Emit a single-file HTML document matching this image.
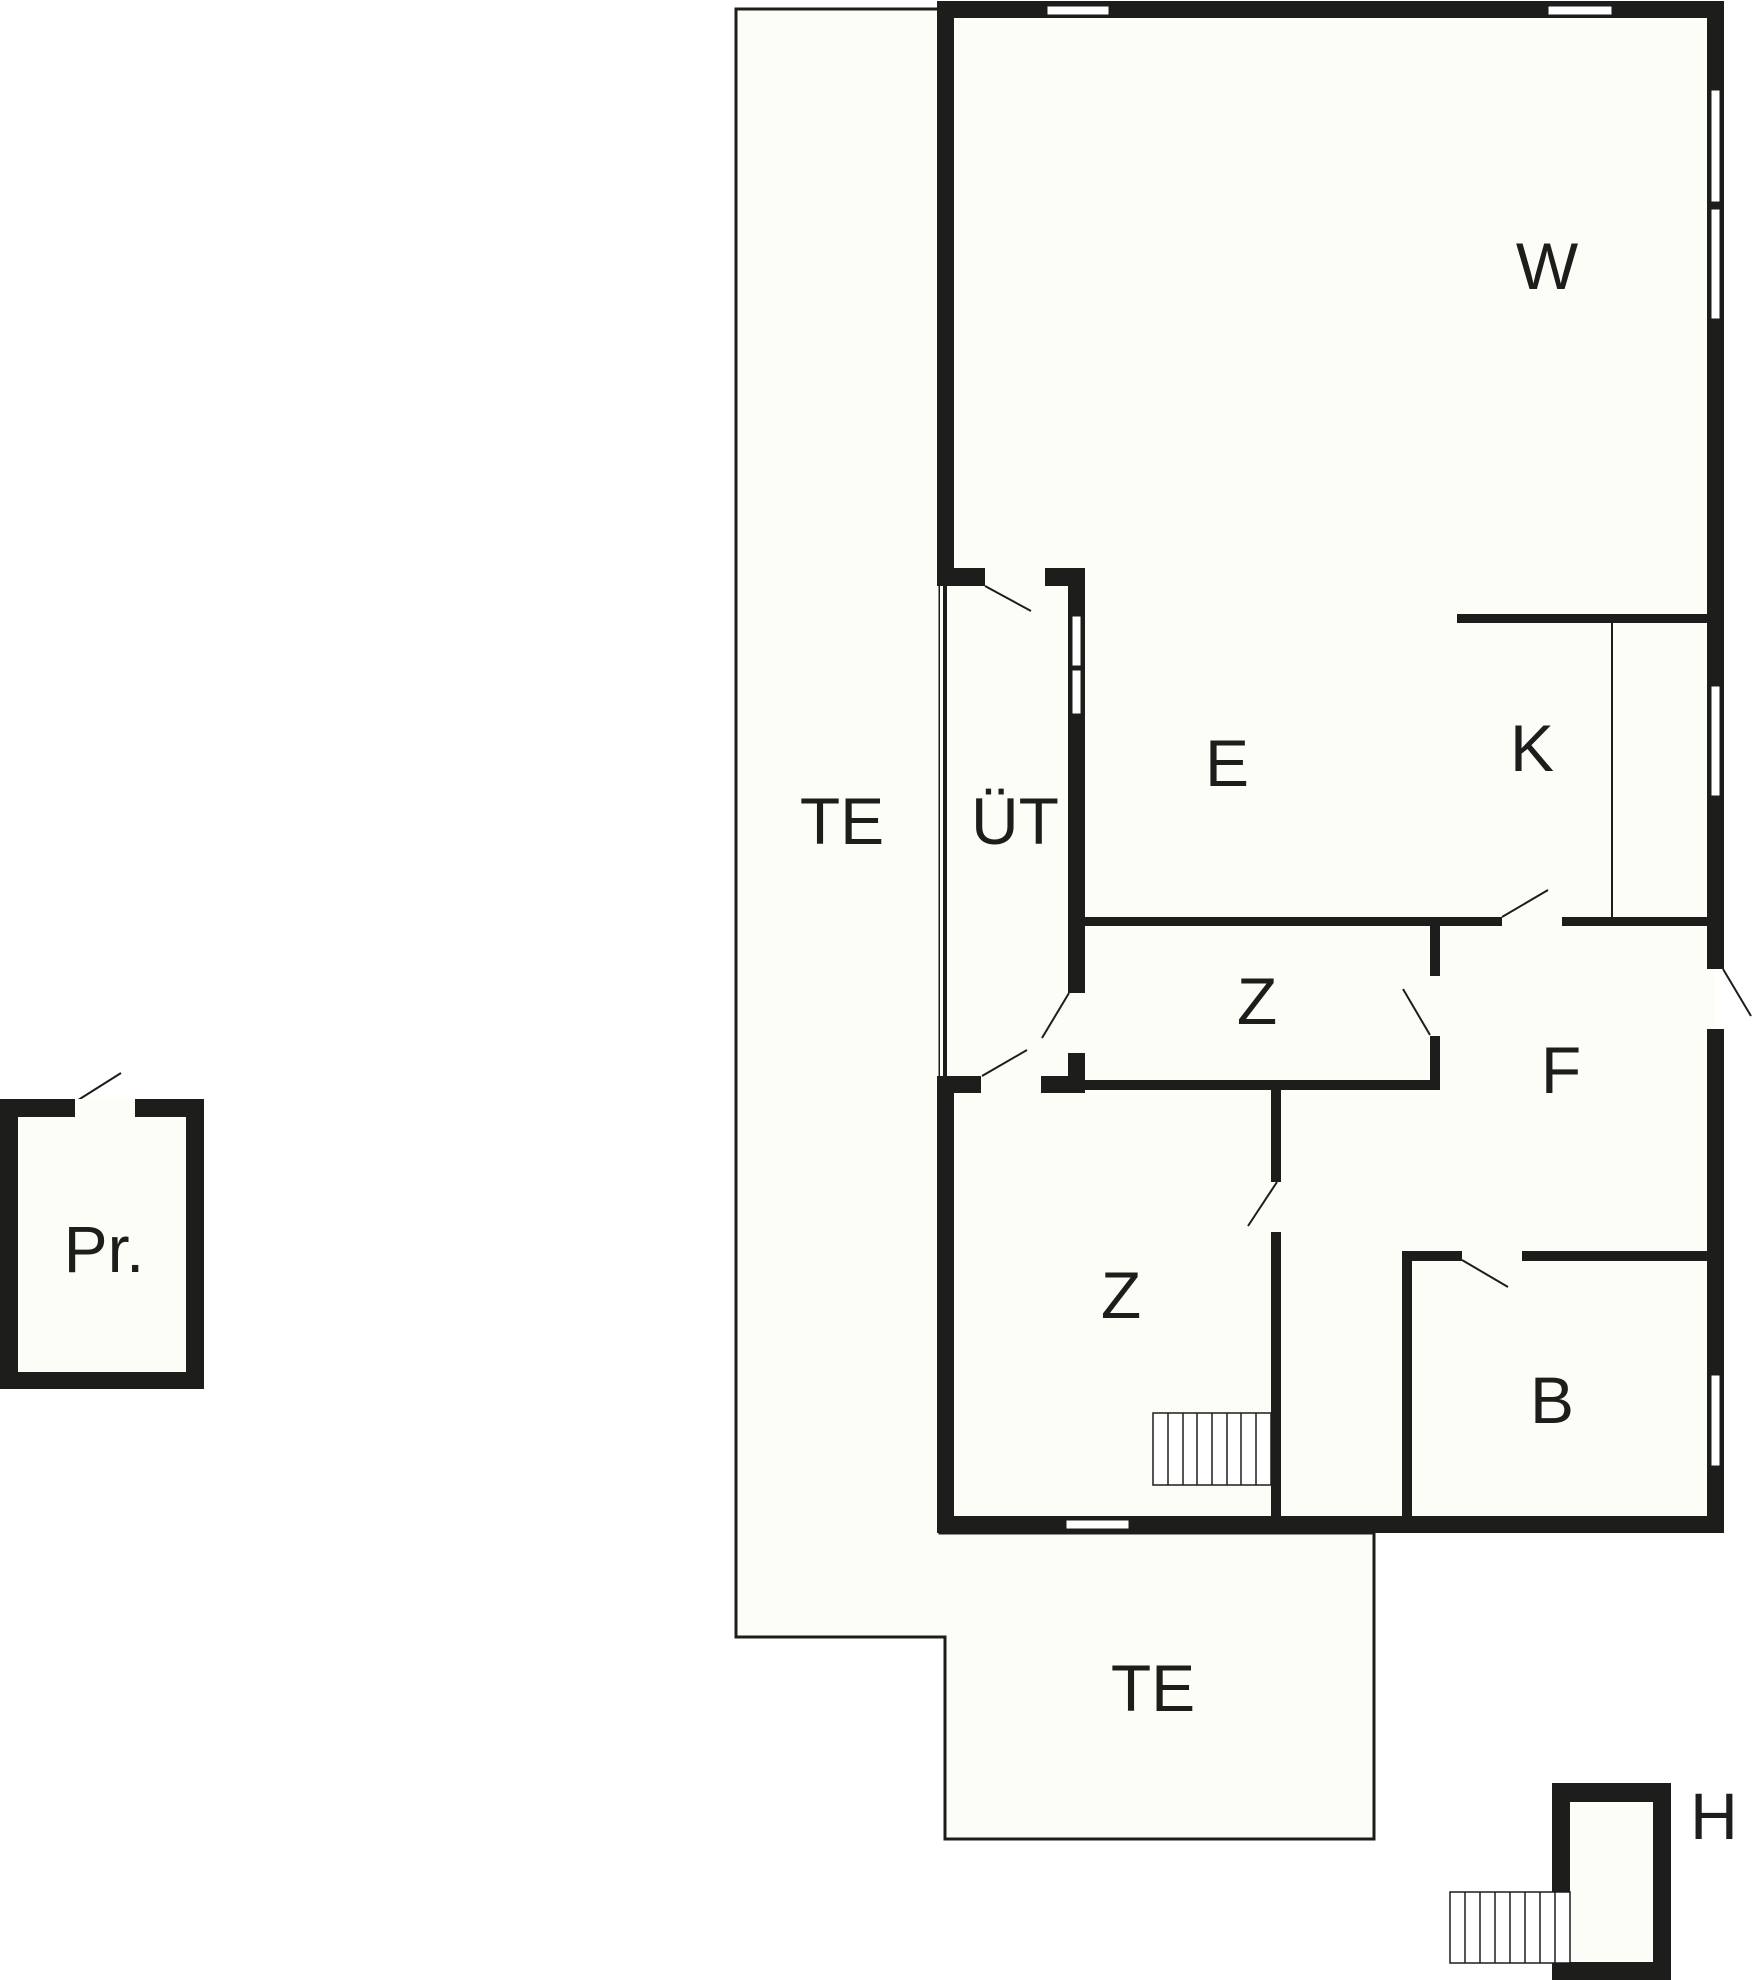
<!DOCTYPE html>
<html><head><meta charset="utf-8"><style>
html,body{margin:0;padding:0;background:#fff;}
svg{display:block;}
text{font-family:"Liberation Sans",sans-serif;font-size:66px;fill:#1d1d1b;text-anchor:middle;}
</style></head><body>
<svg width="1752" height="1980" viewBox="0 0 1752 1980" xmlns="http://www.w3.org/2000/svg">
<rect width="1752" height="1980" fill="#fff"/>
<!-- terrace -->
<polygon points="736,9 940,9 940,1533 1374,1533 1374,1839 945,1839 945,1637 736,1637" fill="#fdfdf8" stroke="#1d1d1b" stroke-width="3"/>
<!-- main interior -->
<rect x="940" y="5" width="775" height="1520" fill="#fdfdf8"/>
<g fill="#1d1d1b">
<!-- outer walls -->
<rect x="937" y="1" width="787" height="17"/>
<rect x="1707" y="1" width="17" height="968"/>
<rect x="1707" y="1029" width="17" height="504"/>
<rect x="937" y="1" width="17" height="585"/>
<rect x="937" y="1076" width="17" height="457"/>
<rect x="937" y="1516" width="787" height="17"/>
<!-- notch -->
<rect x="937" y="568" width="48" height="18"/>
<rect x="1045" y="568" width="40" height="18"/>
<rect x="1068" y="568" width="17" height="425"/>
<rect x="1068" y="1053" width="17" height="40"/>
<rect x="937" y="1076" width="44" height="17"/>
<rect x="1041" y="1076" width="44" height="17"/>
<rect x="943" y="586" width="4" height="490"/>
<!-- inner walls -->
<rect x="1085" y="917" width="417" height="9"/>
<rect x="1562" y="917" width="145" height="9"/>
<rect x="1457" y="614" width="250" height="9"/>
<rect x="1611" y="623" width="2" height="294"/>
<rect x="1430" y="926" width="10" height="50"/>
<rect x="1430" y="1036" width="10" height="54"/>
<rect x="1085" y="1080" width="355" height="10"/>
<rect x="1271" y="1090" width="10" height="92"/>
<rect x="1271" y="1232" width="10" height="284"/>
<rect x="1402" y="1251" width="60" height="10"/>
<rect x="1522" y="1251" width="185" height="10"/>
<rect x="1402" y="1251" width="10" height="265"/>
</g>
<!-- windows -->
<g fill="#fff" stroke="#1d1d1b" stroke-width="1">
<rect x="1047" y="6" width="62" height="9"/>
<rect x="1548" y="6" width="64" height="9"/>
<rect x="1711" y="90" width="9" height="112"/>
<rect x="1711" y="209" width="9" height="110"/>
<rect x="1711" y="686" width="9" height="110"/>
<rect x="1711" y="1375" width="9" height="91"/>
<rect x="1072" y="616" width="9" height="50"/>
<rect x="1072" y="670" width="9" height="44"/>
<rect x="1066" y="1520" width="63" height="9"/>
</g>
<!-- doors -->
<g stroke="#1d1d1b" stroke-width="2">
<line x1="985" y1="586" x2="1031" y2="611"/>
<line x1="1502" y1="917" x2="1548" y2="890"/>
<line x1="1069" y1="993" x2="1042" y2="1038"/>
<line x1="1027" y1="1050" x2="982" y2="1076"/>
<line x1="1403" y1="989" x2="1430" y2="1035"/>
<line x1="1723" y1="969" x2="1751" y2="1016"/>
<line x1="1462" y1="1260" x2="1508" y2="1287"/>
<line x1="1277" y1="1182" x2="1248" y2="1226"/>
<line x1="75" y1="1102" x2="121" y2="1073"/>
</g>
<!-- stairs Z -->
<g fill="#fff" stroke="#1d1d1b" stroke-width="1.5">
<rect x="1153" y="1413" width="118" height="72"/>
<line x1="1168" y1="1413" x2="1168" y2="1485"/>
<line x1="1183" y1="1413" x2="1183" y2="1485"/>
<line x1="1197" y1="1413" x2="1197" y2="1485"/>
<line x1="1212" y1="1413" x2="1212" y2="1485"/>
<line x1="1227" y1="1413" x2="1227" y2="1485"/>
<line x1="1241" y1="1413" x2="1241" y2="1485"/>
<line x1="1256" y1="1413" x2="1256" y2="1485"/>
</g>
<!-- Pr -->
<rect x="0" y="1099" width="204" height="290" fill="#1d1d1b"/>
<rect x="18" y="1117" width="168" height="255" fill="#fdfdf8"/>
<rect x="75" y="1099" width="60" height="18" fill="#fdfdf8"/>
<!-- H -->
<rect x="1552" y="1783" width="119" height="197" fill="#1d1d1b"/>
<rect x="1570" y="1802" width="83" height="160" fill="#fdfdf8"/>
<g fill="#fff" stroke="#1d1d1b" stroke-width="1.5">
<rect x="1450" y="1892" width="120" height="71"/>
<line x1="1465" y1="1892" x2="1465" y2="1963"/>
<line x1="1480" y1="1892" x2="1480" y2="1963"/>
<line x1="1495" y1="1892" x2="1495" y2="1963"/>
<line x1="1510" y1="1892" x2="1510" y2="1963"/>
<line x1="1525" y1="1892" x2="1525" y2="1963"/>
<line x1="1540" y1="1892" x2="1540" y2="1963"/>
<line x1="1555" y1="1892" x2="1555" y2="1963"/>
</g>
<!-- labels -->
<text x="1547" y="289">W</text>
<text x="1227" y="786">E</text>
<text x="1532" y="771">K</text>
<text x="1015" y="844">ÜT</text>
<text x="842" y="844">TE</text>
<text x="1257" y="1024">Z</text>
<text x="1561" y="1093">F</text>
<text x="1121" y="1318">Z</text>
<text x="1552" y="1423">B</text>
<text x="1153" y="1711">TE</text>
<text x="104" y="1272">Pr.</text>
<text x="1714" y="1839">H</text>
</svg>
</body></html>
